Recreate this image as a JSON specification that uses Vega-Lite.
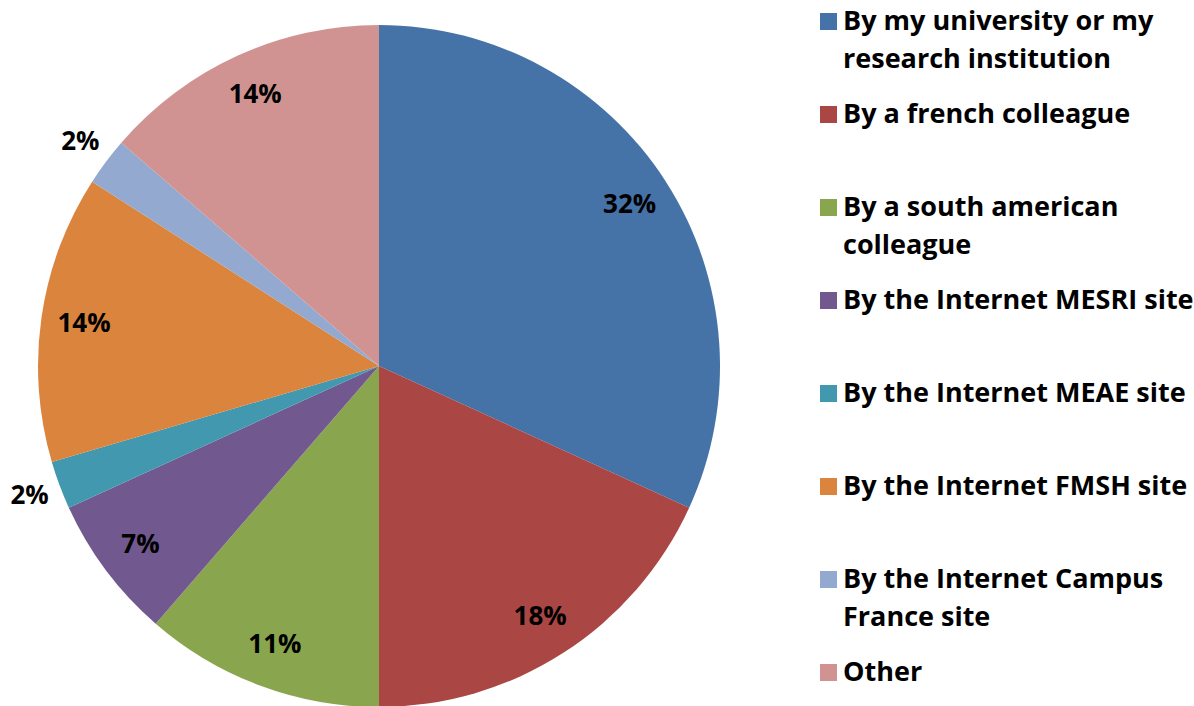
{
  "$schema": "https://vega.github.io/schema/vega-lite/v6.json",
  "width": 758,
  "height": 732,
  "padding": 0,
  "background": "white",
  "config": {"view": {"stroke": null}},
  "data": {
    "values": [
      {"n": 1, "source": "By my university or my\nresearch institution", "count": 14, "label": "32%"},
      {"n": 2, "source": "By a french colleague", "count": 8, "label": "18%"},
      {"n": 3, "source": "By a south american\ncolleague", "count": 5, "label": "11%"},
      {"n": 4, "source": "By the Internet MESRI site", "count": 3, "label": "7%"},
      {"n": 5, "source": "By the Internet MEAE site", "count": 1, "label": "2%"},
      {"n": 6, "source": "By the Internet FMSH site", "count": 6, "label": "14%"},
      {"n": 7, "source": "By the Internet Campus\nFrance site", "count": 1, "label": "2%"},
      {"n": 8, "source": "Other", "count": 6, "label": "14%"}
    ]
  },
  "encoding": {
    "theta": {"field": "count", "type": "quantitative", "stack": true},
    "order": {"field": "n", "type": "quantitative"}
  },
  "layer": [
    {
      "mark": {"type": "arc", "outerRadius": 341},
      "encoding": {
        "color": {
          "field": "source",
          "type": "nominal",
          "scale": {
            "domain": [
              "By my university or my\nresearch institution",
              "By a french colleague",
              "By a south american\ncolleague",
              "By the Internet MESRI site",
              "By the Internet MEAE site",
              "By the Internet FMSH site",
              "By the Internet Campus\nFrance site",
              "Other"
            ],
            "range": ["#4572A7", "#AA4643", "#89A54E", "#71588F", "#4198AF", "#DB843D", "#93A9CF", "#D19392"]
          },
          "legend": {
            "title": null,
            "orient": "none",
            "legendX": 815,
            "legendY": 8,
            "padding": 0,
            "symbolType": "square",
            "symbolSize": 289,
            "symbolStrokeWidth": 0,
            "labelFont": "Open Sans",
            "labelFontSize": 27,
            "labelFontWeight": "bold",
            "labelColor": "black",
            "labelLimit": 1000,
            "labelOffset": 1,
            "labelExpr": "split(datum.label, '\\n')",
            "gridAlign": "all",
            "rowPadding": 27,
            "encode": {"labels": {"update": {"lineHeight": {"value": 38}}}}
          }
        }
      }
    },
    {
      "mark": {"type": "text", "radius": 298, "font": "Open Sans", "fontWeight": "bold", "fontSize": 26},
      "encoding": {
        "detail": {"field": "source", "type": "nominal"},
        "color": {"value": "black"},
        "text": {"condition": {"test": "datum.count > 1", "field": "label"}, "value": ""}
      }
    },
    {
      "mark": {"type": "text", "radius": 373, "font": "Open Sans", "fontWeight": "bold", "fontSize": 26},
      "encoding": {
        "detail": {"field": "source", "type": "nominal"},
        "color": {"value": "black"},
        "text": {"condition": {"test": "datum.count <= 1", "field": "label"}, "value": ""}
      }
    }
  ]
}
